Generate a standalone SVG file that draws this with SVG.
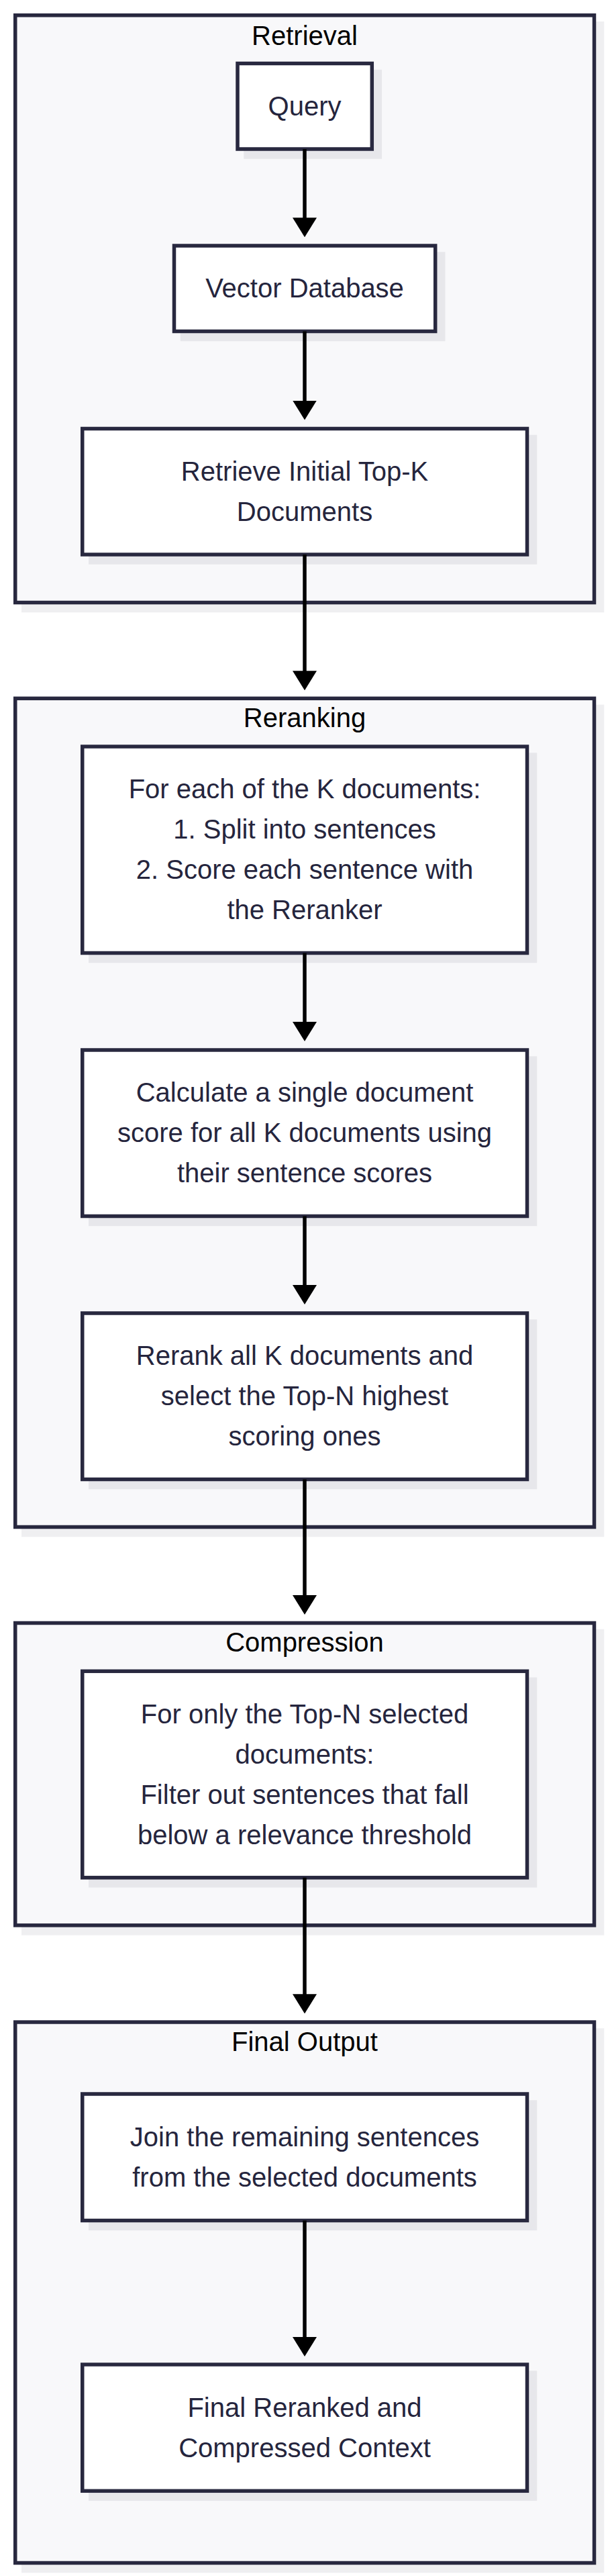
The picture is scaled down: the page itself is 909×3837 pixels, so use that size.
<svg xmlns="http://www.w3.org/2000/svg" width="909" height="3837" viewBox="0 0 909 3837">
<defs>
<style>
.cl{fill:#f8f8fa;stroke:#28283f;stroke-width:5.5}
.cls{fill:#efeff1;stroke:#efeff1;stroke-width:5.5}
.nd{fill:#ffffff;stroke:#28283f;stroke-width:5.5}
.nds{fill:#e7e7eb;stroke:#e7e7eb;stroke-width:5.5}
.t{font-family:"Liberation Sans",Arial,sans-serif;font-size:40px;text-anchor:middle;fill:#25253d}
.tt{font-family:"Liberation Sans",Arial,sans-serif;font-size:40px;text-anchor:middle;fill:#000000}
.e{stroke:#000000;stroke-width:5.5;fill:none;marker-end:url(#ah)}
</style>
<marker id="ah" markerUnits="userSpaceOnUse" viewBox="0 0 29 36" refX="9" refY="18" markerWidth="29" markerHeight="36" orient="auto">
<path d="M0,0 L29,18 L0,36 z" fill="#000000"/>
</marker>
</defs>
<rect width="909" height="3837" fill="#ffffff"/>

<g id="cluster-retrieval">
<rect class="cls" x="34.75" y="34.75" width="862.75" height="874.75"/>
<rect class="cl" x="22.75" y="22.75" width="862.75" height="874.75"/>
<text class="tt" x="454" y="66.5">Retrieval</text>
</g>
<g id="cluster-reranking">
<rect class="cls" x="34.75" y="1052.3" width="862.75" height="1234.2"/>
<rect class="cl" x="22.75" y="1040.3" width="862.75" height="1234.2"/>
<text class="tt" x="454" y="1083.3">Reranking</text>
</g>
<g id="cluster-compression">
<rect class="cls" x="34.75" y="2429.5" width="862.75" height="450.3"/>
<rect class="cl" x="22.75" y="2417.5" width="862.75" height="450.3"/>
<text class="tt" x="454" y="2460">Compression</text>
</g>
<g id="cluster-final">
<rect class="cls" x="34.75" y="3024" width="862.75" height="805.5"/>
<rect class="cl" x="22.75" y="3012" width="862.75" height="805.5"/>
<text class="tt" x="454" y="3055">Final Output</text>
</g>

<g id="node-query">
<rect class="nds" x="366" y="106.5" width="200.3" height="127.5"/>
<rect class="nd" x="354" y="94.5" width="200.3" height="127.5"/>
<text class="t" x="454" y="171.75">Query</text>
</g>
<g id="node-vectordb">
<rect class="nds" x="271.5" y="378" width="389.2" height="127.5"/>
<rect class="nd" x="259.5" y="366" width="389.2" height="127.5"/>
<text class="t" x="454" y="443.25">Vector Database</text>
</g>
<g id="node-retrieve">
<rect class="nds" x="134.75" y="650.5" width="662.75" height="187.5"/>
<rect class="nd" x="122.75" y="638.5" width="662.75" height="187.5"/>
<text class="t" x="454" y="715.75">Retrieve Initial Top-K</text>
<text class="t" x="454" y="775.75">Documents</text>
</g>
<g id="node-split">
<rect class="nds" x="134.75" y="1124" width="662.75" height="307.5"/>
<rect class="nd" x="122.75" y="1112" width="662.75" height="307.5"/>
<text class="t" x="454" y="1189.25">For each of the K documents:</text>
<text class="t" x="454" y="1249.25">1. Split into sentences</text>
<text class="t" x="454" y="1309.25">2. Score each sentence with</text>
<text class="t" x="454" y="1369.25">the Reranker</text>
</g>
<g id="node-docscore">
<rect class="nds" x="134.75" y="1576" width="662.75" height="247.5"/>
<rect class="nd" x="122.75" y="1564" width="662.75" height="247.5"/>
<text class="t" x="454" y="1641.25">Calculate a single document</text>
<text class="t" x="454" y="1701.25">score for all K documents using</text>
<text class="t" x="454" y="1761.25">their sentence scores</text>
</g>
<g id="node-rerank">
<rect class="nds" x="134.75" y="1968" width="662.75" height="247.5"/>
<rect class="nd" x="122.75" y="1956" width="662.75" height="247.5"/>
<text class="t" x="454" y="2033.25">Rerank all K documents and</text>
<text class="t" x="454" y="2093.25">select the Top-N highest</text>
<text class="t" x="454" y="2153.25">scoring ones</text>
</g>
<g id="node-filter">
<rect class="nds" x="134.75" y="2501.3" width="662.75" height="307.5"/>
<rect class="nd" x="122.75" y="2489.3" width="662.75" height="307.5"/>
<text class="t" x="454" y="2566.5">For only the Top-N selected</text>
<text class="t" x="454" y="2626.5">documents:</text>
<text class="t" x="454" y="2686.5">Filter out sentences that fall</text>
<text class="t" x="454" y="2746.5">below a relevance threshold</text>
</g>
<g id="node-join">
<rect class="nds" x="134.75" y="3131" width="662.75" height="188.5"/>
<rect class="nd" x="122.75" y="3119" width="662.75" height="188.5"/>
<text class="t" x="454" y="3196.75">Join the remaining sentences</text>
<text class="t" x="454" y="3256.75">from the selected documents</text>
</g>
<g id="node-final">
<rect class="nds" x="134.75" y="3534" width="662.75" height="188.3"/>
<rect class="nd" x="122.75" y="3522" width="662.75" height="188.3"/>
<text class="t" x="454" y="3599.65">Final Reranked and</text>
<text class="t" x="454" y="3659.65">Compressed Context</text>
</g>

<g id="edges">
<line class="e" x1="454" y1="222" x2="454" y2="333.3"/>
<line class="e" x1="454" y1="493.5" x2="454" y2="605.5"/>
<line class="e" x1="454" y1="826" x2="454" y2="1008.3"/>
<line class="e" x1="454" y1="1419.5" x2="454" y2="1531"/>
<line class="e" x1="454" y1="1811.5" x2="454" y2="1923"/>
<line class="e" x1="454" y1="2203.5" x2="454" y2="2385"/>
<line class="e" x1="454" y1="2796.8" x2="454" y2="2979.3"/>
<line class="e" x1="454" y1="3307.5" x2="454" y2="3490"/>
</g>
</svg>
